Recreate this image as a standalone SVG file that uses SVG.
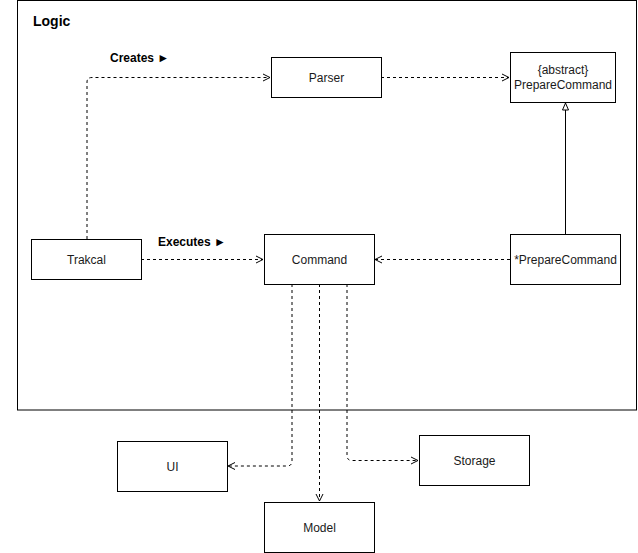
<svg xmlns="http://www.w3.org/2000/svg" width="638" height="553" viewBox="0 0 638 553">
<style>
.box{fill:#fff;stroke:#000;stroke-width:1}
.t{font-family:"Liberation Sans",Arial,sans-serif;font-size:12px;fill:#1a1a1a;text-anchor:middle}
.lbl{font-family:"Liberation Sans",Arial,sans-serif;font-size:12px;font-weight:bold;fill:#000}
.dep{fill:none;stroke:#000;stroke-width:1;stroke-dasharray:3 3}
.gen{fill:none;stroke:#000;stroke-width:1}
</style>
<defs>
<marker id="open" markerUnits="userSpaceOnUse" markerWidth="10" markerHeight="10" viewBox="0 0 10 10" refX="8" refY="5" orient="auto">
<path d="M1,1.5 L8,5 L1,8.5" fill="none" stroke="#000" stroke-width="1"/>
</marker>
<marker id="tri" markerUnits="userSpaceOnUse" markerWidth="10" markerHeight="10" viewBox="0 0 10 10" refX="9" refY="5" orient="auto">
<path d="M2,2 L9,5 L2,8 Z" fill="#fff" stroke="#000" stroke-width="1"/>
</marker>
</defs>
<rect x="0" y="0" width="638" height="553" fill="#fff"/>
<g id="logic">
<rect x="17.5" y="0.5" width="619" height="409.5" fill="none" stroke="#000"/>
<text x="33" y="26" font-family="Liberation Sans,Arial,sans-serif" font-size="14" font-weight="bold" fill="#000">Logic</text>
</g>
<g id="connectors">
<path class="dep" d="M87,239 L87,82 Q87,77.5 92,77.5 L270,77.5" marker-end="url(#open)"/>
<path class="dep" d="M381,77.5 L509,77.5" marker-end="url(#open)"/>
<path class="dep" d="M141,259.5 L263,259.5" marker-end="url(#open)"/>
<path class="dep" d="M510,259.5 L375,259.5" marker-end="url(#open)"/>
<path class="gen" d="M565.5,234 L565.5,103" marker-end="url(#tri)"/>
<path class="dep" d="M292,284 L292,461 Q292,466 287,466 L228,466" marker-end="url(#open)"/>
<path class="dep" d="M319.5,284 L319.5,501" marker-end="url(#open)"/>
<path class="dep" d="M347,284 L347,455.5 Q347,460.5 352,460.5 L418,460.5" marker-end="url(#open)"/>
<text class="lbl" x="110" y="62">Creates ►</text>
<text class="lbl" x="158" y="246">Executes ►</text>
</g>
<g id="parser"><rect class="box" x="271.5" y="57.5" width="110" height="40"/><text class="t" x="326.5" y="82">Parser</text></g>
<g id="prepareCommand"><rect class="box" x="510.5" y="52.5" width="105" height="50"/><text class="t" x="563" y="74">{abstract}</text><text class="t" x="563" y="89">PrepareCommand</text></g>
<g id="trakcal"><rect class="box" x="31.5" y="239.5" width="110" height="40"/><text class="t" x="86.5" y="264">Trakcal</text></g>
<g id="command"><rect class="box" x="264.5" y="234.5" width="110" height="50"/><text class="t" x="319.5" y="264">Command</text></g>
<g id="starPrepareCommand"><rect class="box" x="510.5" y="234.5" width="110" height="50"/><text class="t" x="565.5" y="264">*PrepareCommand</text></g>
<g id="ui"><rect class="box" x="117.5" y="441.5" width="110" height="50"/><text class="t" x="172.5" y="471">UI</text></g>
<g id="storage"><rect class="box" x="419.5" y="435.5" width="110" height="50"/><text class="t" x="474.5" y="465">Storage</text></g>
<g id="model"><rect class="box" x="264.5" y="502.5" width="110" height="50"/><text class="t" x="319.5" y="532">Model</text></g>
</svg>
